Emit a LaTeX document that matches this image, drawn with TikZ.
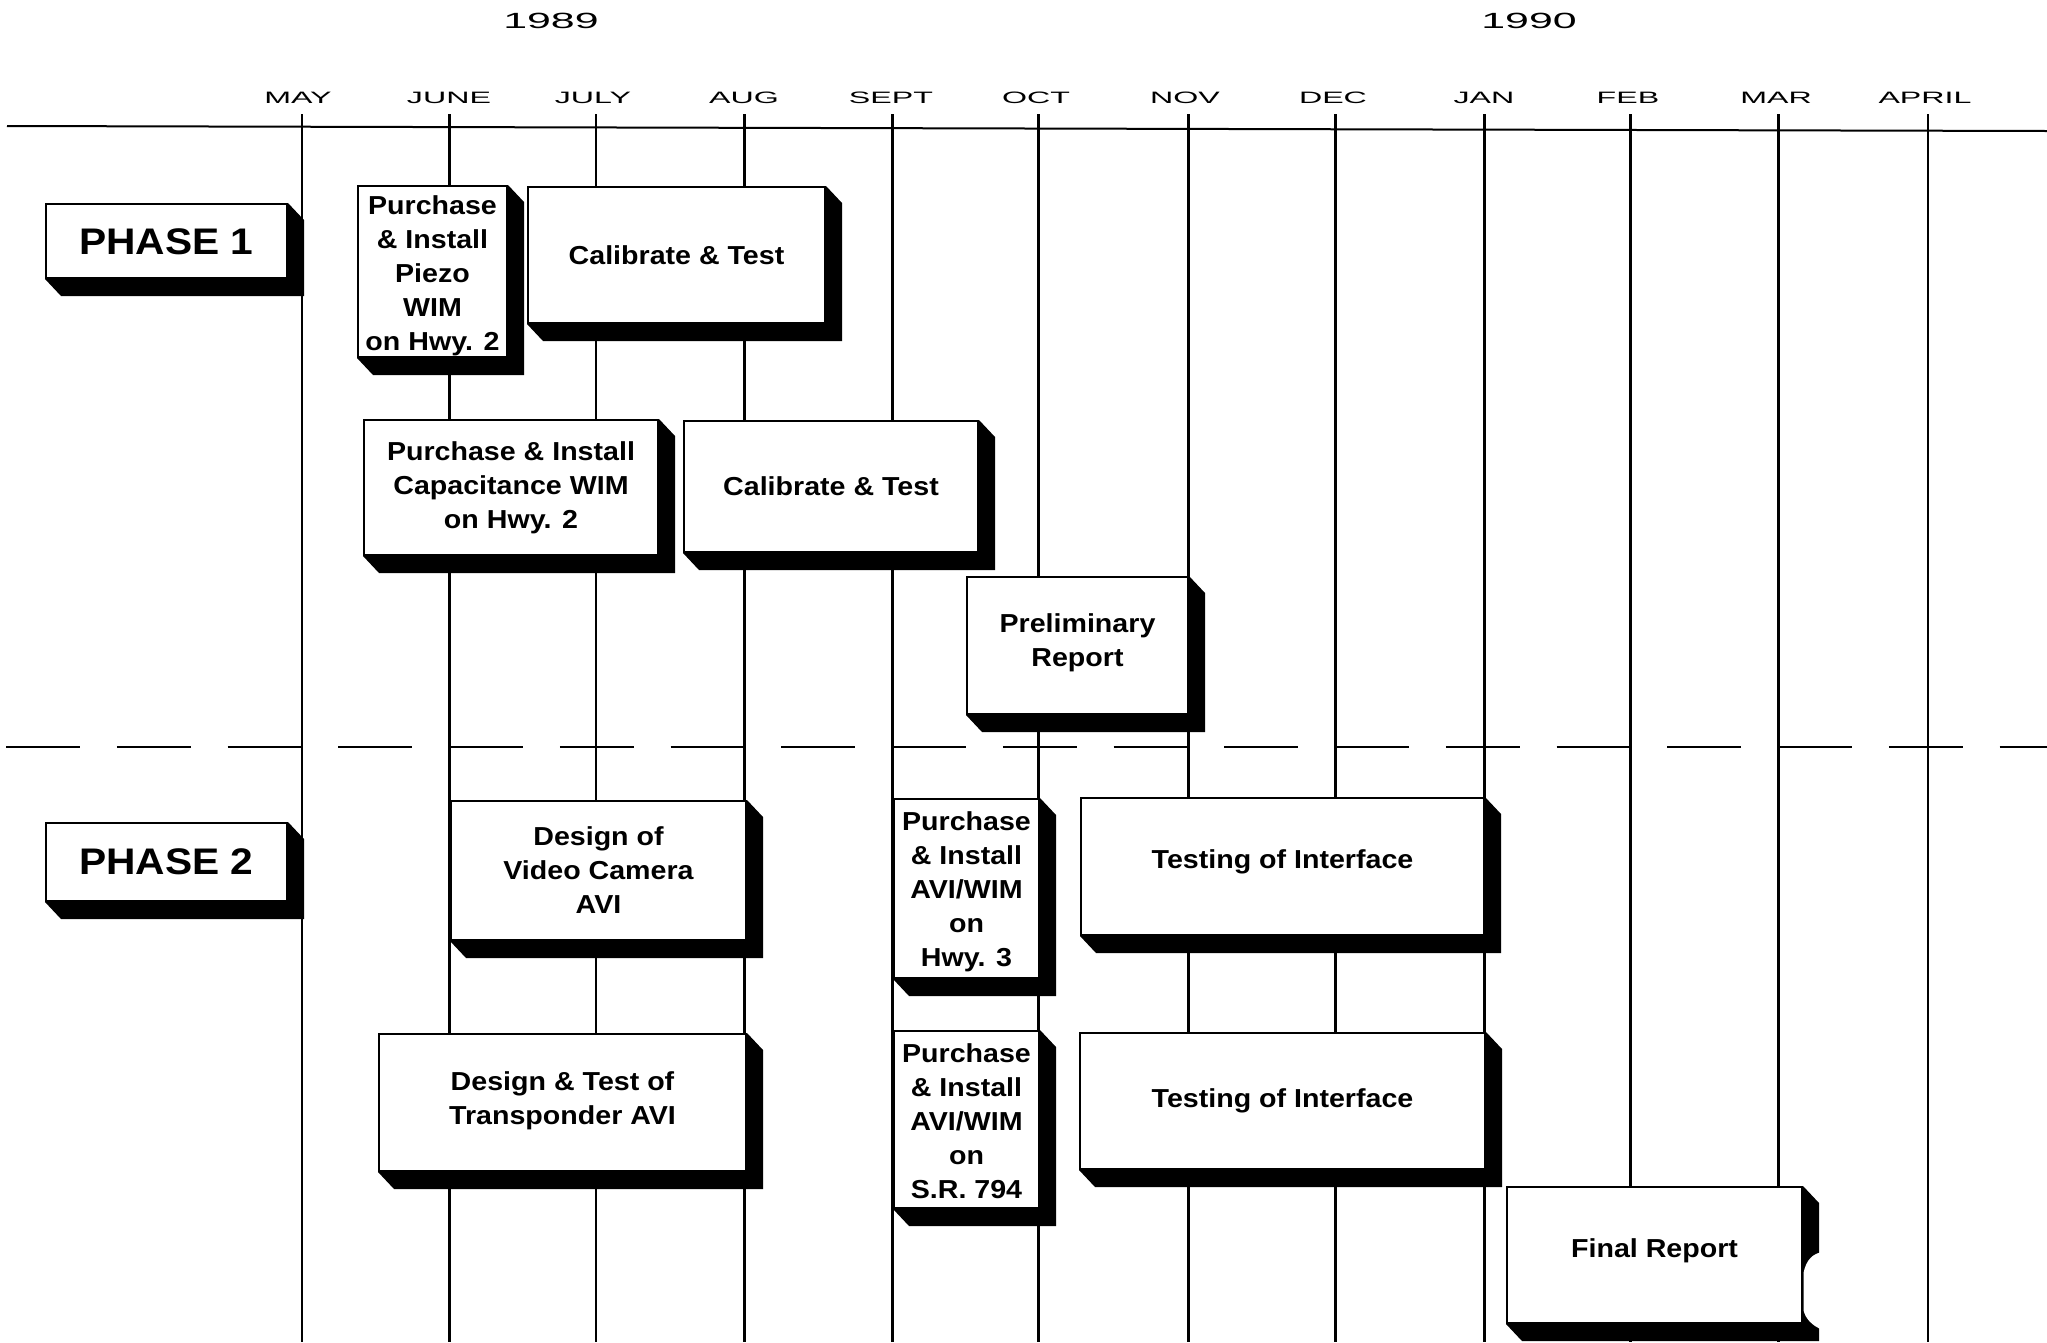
\documentclass[tikz,border=0pt]{standalone}
\usepackage{fontspec}
\setmainfont{Liberation Sans}
\newfontfamily\boxfam[FakeStretch=1.1]{Liberation Sans}
\newfontfamily\headfam[FakeStretch=1.95]{Liberation Sans}
\usetikzlibrary{calc}
\pgfdeclarelayer{back}
\pgfdeclarelayer{shade}
\pgfsetlayers{back,shade,main}
\newcommand\boxfont{\boxfam\bfseries\fontsize{26}{34}\selectfont}
\newcommand\phasefont{\boxfam\bfseries\fontsize{37}{40}\selectfont}
\tikzset{
  task/.style={draw=black, line width=2pt, fill=white, inner sep=0pt},
  tasktext/.style={align=center, inner sep=0pt, font=\boxfont},
  monthlab/.style={anchor=base, inner sep=0pt, font=\headfam\fontsize{16.5}{18}\selectfont},
  yearlab/.style={anchor=base, inner sep=0pt, font=\headfam\fontsize{22}{24}\selectfont},
  monthline/.style={line width=2.4pt},
}
% [text offset]{name}{x1}{y1}{x2}{y2}{text}
\newcommand\taskbox[7][0]{%
  \node[task, minimum width={(#5-#3)*1pt}, minimum height={(#6-#4)*1pt}] (#2) at ({(#3+#5)/2},{(#4+#6)/2}) {};
  \node[tasktext] (#2-t) at ($(#2.center)+(0,#1)$) {#7};
  \begin{pgfonlayer}{shade}
    \fill[black] (#2.north east) -- ++(16,17) -- ($(#2.south east)+(16,17)$) -- ($(#2.south west)+(16,17)$) -- (#2.south west) -- cycle;
  \end{pgfonlayer}}
\begin{document}
\begin{tikzpicture}[x=1pt,y=-1pt]
\useasboundingbox (0,0) rectangle (2047,1342);
\begin{pgfonlayer}{back}
  \fill[white] (0,0) rectangle (2047,1342);
  % header rule
  \draw[line width=2pt] (7,126) -- (2047,131);
  % month lines
  \foreach \x in {302,449.5,596,744.5,892.5,1038.5,1188.5,1335.5,1484.5,1630.5,1778.5,1928}
    \draw[monthline] (\x,114) -- (\x,1342);
  % phase separator
  \draw[line width=2.6pt, dash pattern=on 74pt off 36.75pt] (6,747) -- (2047,747);
\end{pgfonlayer}

% years
\node[yearlab] (y89) at (551,28) {1989};
\node[yearlab] (y90) at (1529,28) {1990};

% months
\foreach \m/\x [count=\i] in {MAY/298,JUNE/449,JULY/593,AUG/744,SEPT/891,OCT/1036,NOV/1185,DEC/1333,JAN/1484,FEB/1628,MAR/1776,APRIL/1925}
  \node[monthlab] (m\i) at (\x,103) {\m};

% phase labels
\taskbox[1]{ph1}{46}{204}{287}{278}{\phasefont PHASE 1}
\taskbox{ph2}{46}{823}{287}{901}{\phasefont PHASE 2}

% phase 1 tasks
\taskbox[4]{piezo}{358}{186}{507}{357}{Purchase\\ \& Install\\ Piezo\\ WIM\\ on Hwy. 2}
\taskbox{cal1}{528}{187}{825}{323}{Calibrate \& Test}
\taskbox{cap}{364}{420}{658}{555}{Purchase \& Install\\ Capacitance WIM\\ on Hwy. 2}
\taskbox{cal2}{684}{421}{978}{552}{Calibrate \& Test}
\taskbox[-3]{prelim}{967}{577}{1188}{714}{Preliminary\\ Report}

% phase 2 tasks
\taskbox{video}{451}{801}{746}{940}{Design of\\ Video Camera\\ AVI}
\taskbox[-2]{transp}{379}{1034}{746}{1171}{Design \& Test of\\ Transponder AVI}
\taskbox[3]{hwy3}{894}{799}{1039}{978}{Purchase\\ \& Install\\ AVI/WIM\\ on\\ Hwy. 3}
\taskbox[2]{sr794}{894}{1031}{1039}{1208}{Purchase\\ \& Install\\ AVI/WIM\\ on\\ S.R. 794}
\taskbox[-5]{test1}{1081}{798}{1484}{935}{Testing of Interface}
\taskbox{test2}{1080}{1033}{1485}{1169}{Testing of Interface}
\taskbox[-4]{final}{1507}{1187}{1802}{1323}{Final Report}

% notch in the final report shadow
\begin{pgfonlayer}{shade}
  \fill[white] (1803.5,1273) .. controls (1806,1260) and (1813,1253) .. (1823,1252) -- (1823,1330) .. controls (1812,1326) and (1805,1318) .. (1803.5,1310) -- cycle;
\end{pgfonlayer}
\end{tikzpicture}
\end{document}
